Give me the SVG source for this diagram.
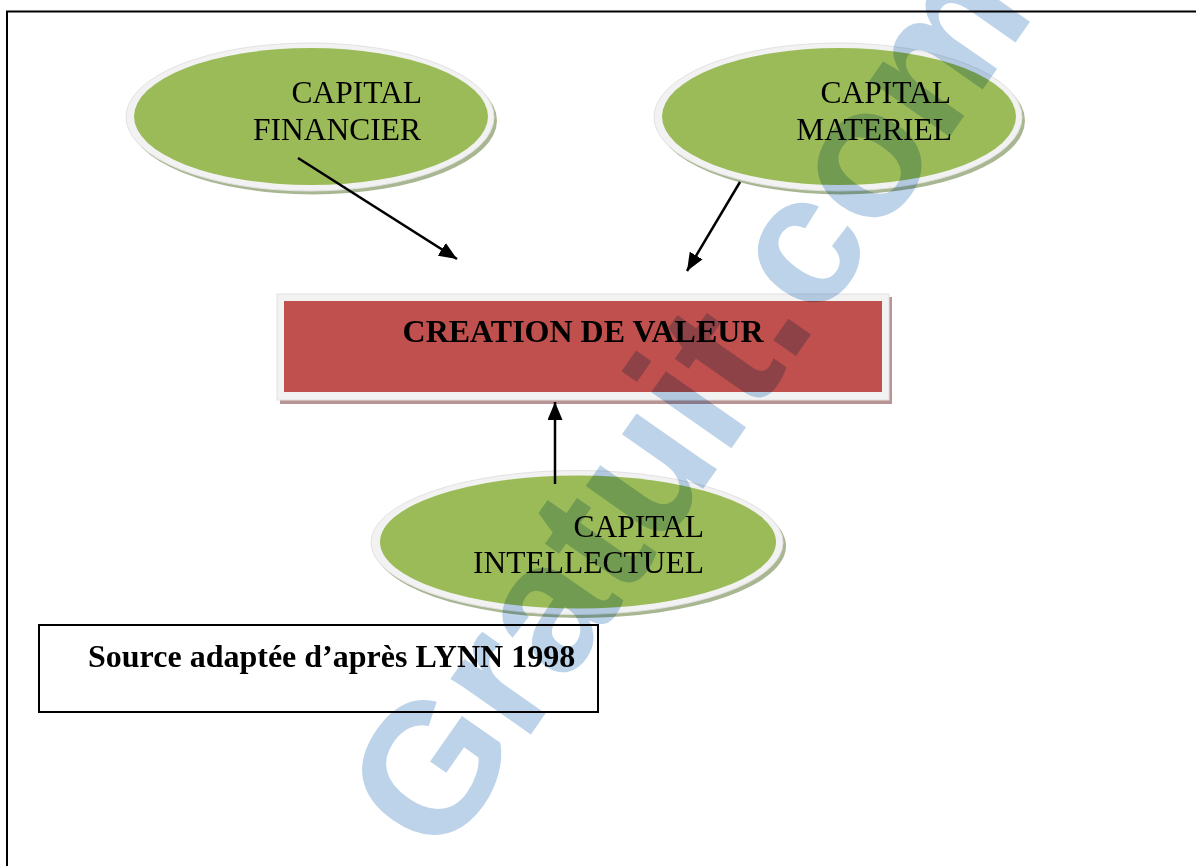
<svg xmlns="http://www.w3.org/2000/svg" width="1196" height="866" viewBox="0 0 1196 866">
<defs>
<style>
.lbl{font-family:"Liberation Serif","Times New Roman",serif;font-size:31.5px;fill:#000}
.bold{font-family:"Liberation Serif","Times New Roman",serif;font-size:32px;font-weight:bold;fill:#000}
.ring{fill:#F2F2F2;stroke:#E2E2E2;stroke-width:1}
.shadow{fill:#A8B791}
.green{fill:#9BBB59}
.conn{stroke:#000;stroke-width:2.5;fill:none}
.wm{font-family:"Liberation Sans",Arial,sans-serif;font-weight:bold;font-size:185px;fill:#BCD3EA}
</style>
<marker id="ah" markerUnits="userSpaceOnUse" markerWidth="18" markerHeight="15" refX="18" refY="7.5" orient="auto" viewBox="0 0 18 15">
<path d="M0,0 L18,7.5 L0,15 z" fill="#000"/>
</marker>
</defs>
<rect x="0" y="0" width="1196" height="866" fill="#fff"/>
<path d="M7,866 V11.5 H1196" fill="none" stroke="#000" stroke-width="2"/>

<g id="capital-financier">
<ellipse class="shadow" cx="313" cy="120.5" rx="184" ry="74"/>
<ellipse class="ring" cx="310" cy="117" rx="184" ry="74"/>
<ellipse class="green" cx="311" cy="116.5" rx="177" ry="68.5"/>
<text class="lbl" x="422" y="103" text-anchor="end">CAPITAL</text>
<text class="lbl" x="421" y="140" text-anchor="end">FINANCIER</text>
</g>

<g id="capital-materiel">
<ellipse class="shadow" cx="841" cy="120.5" rx="184" ry="74"/>
<ellipse class="ring" cx="838" cy="117" rx="184" ry="74"/>
<ellipse class="green" cx="839" cy="116.5" rx="177" ry="68.5"/>
<text class="lbl" x="951" y="103" text-anchor="end">CAPITAL</text>
<text class="lbl" x="952" y="140" text-anchor="end">MATERIEL</text>
</g>

<g id="creation-de-valeur">
<rect x="280" y="297" width="612" height="107" fill="#B89494"/>
<rect x="277" y="294" width="612" height="106" fill="#F2F2F2" stroke="#E2E2E2" stroke-width="1"/>
<rect x="284" y="301" width="598" height="91" fill="#C0504D"/>
<text class="bold" x="583" y="342" text-anchor="middle">CREATION DE VALEUR</text>
</g>

<g id="capital-intellectuel">
<ellipse class="shadow" cx="580" cy="546" rx="206" ry="72"/>
<ellipse class="ring" cx="577" cy="542.5" rx="206" ry="72"/>
<ellipse class="green" cx="578" cy="542" rx="198" ry="66.5"/>
<text class="lbl" x="704" y="537" text-anchor="end">CAPITAL</text>
<text class="lbl" x="704" y="573" text-anchor="end">INTELLECTUEL</text>
</g>

<g id="source">
<rect x="39" y="625" width="559" height="87" fill="none" stroke="#000" stroke-width="2"/>
<text class="bold" x="88" y="667">Source adaptée d’après LYNN 1998</text>
</g>

<g id="connectors">
<line class="conn" x1="298" y1="158" x2="457" y2="259" marker-end="url(#ah)"/>
<line class="conn" x1="740" y1="182" x2="687" y2="271" marker-end="url(#ah)"/>
<line class="conn" x1="555" y1="484" x2="555" y2="402" marker-end="url(#ah)"/>
</g>

<g id="watermark" style="mix-blend-mode:multiply">
<text class="wm" transform="translate(441,863) rotate(-55)">Gratuit.com</text>
</g>
</svg>
